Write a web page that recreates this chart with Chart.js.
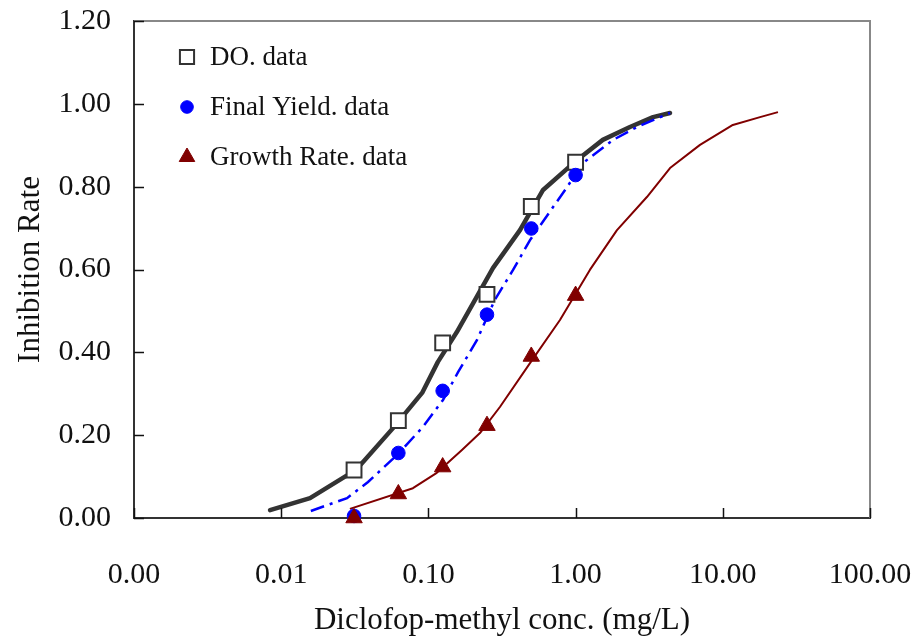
<!DOCTYPE html>
<html>
<head>
<meta charset="utf-8">
<script src="https://cdn.jsdelivr.net/npm/chart.js@4.4.0/dist/chart.umd.min.js"></script>
<style>
  html, body { margin: 0; padding: 0; background: #fff; }
  #wrap { width: 913px; height: 641px; }
</style>
</head>
<body>
<div id="wrap"><canvas id="chart" width="913" height="641"></canvas></div>
<script>
// measured concentrations (mg/L) and inhibition rates
const conc = [0.03125, 0.0625, 0.125, 0.25, 0.5, 1];
const doRate = [0.116, 0.235, 0.423, 0.540, 0.752, 0.859];
const yieldRate = [0.005, 0.157, 0.307, 0.491, 0.699, 0.828];
const growthRate = [0.000, 0.058, 0.123, 0.223, 0.390, 0.537];

// fitted curves
const doFitX = [0.0084, 0.0157, 0.0322, 0.0575, 0.0906, 0.116, 0.156, 0.275, 0.419, 0.601, 1.02, 1.53, 2.34, 3.36, 4.38];
const doFitY = [0.019, 0.048, 0.116, 0.217, 0.302, 0.377, 0.449, 0.604, 0.695, 0.792, 0.864, 0.913, 0.944, 0.968, 0.978];
const yieldFitX = [0.0159, 0.028, 0.0389, 0.0612, 0.0918, 0.1256, 0.159, 0.214, 0.283, 0.376, 0.49, 0.875, 1.12, 1.80, 2.61, 4.38];
const yieldFitY = [0.017, 0.048, 0.087, 0.152, 0.220, 0.285, 0.352, 0.430, 0.527, 0.599, 0.671, 0.799, 0.857, 0.913, 0.944, 0.978];
const growthFitX = [0.0293, 0.0785, 0.114, 0.169, 0.224, 0.306, 0.49, 0.783, 1.25, 1.91, 3.05, 4.38, 7.0, 11.7, 17.9, 23.7];
const growthFitY = [0.022, 0.072, 0.109, 0.164, 0.205, 0.268, 0.374, 0.478, 0.599, 0.695, 0.775, 0.845, 0.901, 0.949, 0.968, 0.980];

// axis ticks
const xTickValues = [0.001, 0.01, 0.1, 1, 10, 100];
const xTickLabels = ['0.00', '0.01', '0.10', '1.00', '10.00', '100.00'];
const yTickValues = [0, 0.2, 0.4, 0.6, 0.8, 1.0, 1.2];

const FONT = "'Liberation Serif', 'Times New Roman', serif";

function pairs(xs, ys) {
    return xs.map((x, i) => ({ x, y: ys[i] }));
}

// inward tick marks + grey top/right frame
const framePlugin = {
    id: 'frame',
    afterDraw(chart) {
        const { ctx, chartArea: a, scales } = chart;
        ctx.save();
        ctx.strokeStyle = '#888';
        ctx.lineWidth = 2;
        ctx.beginPath();
        ctx.moveTo(a.left, a.top);
        ctx.lineTo(a.right, a.top);
        ctx.lineTo(a.right, a.bottom);
        ctx.stroke();

        ctx.strokeStyle = '#111';
        ctx.lineWidth = 1.5;
        ctx.beginPath();
        xTickValues.forEach(v => {
            const px = Math.round(scales.x.getPixelForValue(v)) + 0.5;
            ctx.moveTo(px, a.bottom);
            ctx.lineTo(px, a.bottom - 10);
        });
        yTickValues.forEach(v => {
            const py = Math.round(scales.y.getPixelForValue(v)) + 0.5;
            ctx.moveTo(a.left, py);
            ctx.lineTo(a.left + 10, py);
        });
        ctx.stroke();
        ctx.restore();
    }
};

// legend drawn inside the plot, top-left
const insideLegend = {
    id: 'insideLegend',
    afterDraw(chart) {
        const { ctx, chartArea: a } = chart;
        const items = chart.data.datasets.filter(d => d.inLegend).reverse();
        ctx.save();
        ctx.font = '27px ' + FONT;
        ctx.textBaseline = 'middle';
        items.forEach((d, i) => {
            const y = a.top + 36 + i * 50;
            const x = a.left + 53;
            ctx.fillStyle = d.pointBackgroundColor;
            ctx.strokeStyle = d.pointBorderColor;
            ctx.lineWidth = d.pointBorderWidth;
            Chart.helpers.drawPoint(ctx, {
                pointStyle: d.pointStyle,
                radius: d.legendRadius,
                rotation: 0,
                borderWidth: d.pointBorderWidth
            }, x, y);
            ctx.fillStyle = '#111';
            ctx.fillText(d.label, x + 23, y + 1);
        });
        ctx.restore();
    }
};

new Chart(document.getElementById('chart'), {
    type: 'scatter',
    data: {
        datasets: [
            {
                label: 'Growth Rate. data',
                inLegend: true,
                data: pairs(conc, growthRate),
                pointStyle: 'triangle',
                pointRadius: 9.5,
                legendRadius: 9,
                pointBackgroundColor: '#800000',
                pointBorderColor: '#800000',
                pointBorderWidth: 1,
                clip: false,
                order: 1
            },
            {
                label: 'Final Yield. data',
                inLegend: true,
                data: pairs(conc, yieldRate),
                pointStyle: 'circle',
                pointRadius: 6.8,
                legendRadius: 6.3,
                pointBackgroundColor: '#0000ff',
                pointBorderColor: '#0000ff',
                pointBorderWidth: 1,
                clip: false,
                order: 2
            },
            {
                label: 'DO. data',
                inLegend: true,
                data: pairs(conc, doRate),
                pointStyle: 'rect',
                pointRadius: 10.5,
                legendRadius: 10,
                pointBackgroundColor: '#ffffff',
                pointBorderColor: '#333333',
                pointBorderWidth: 2,
                clip: false,
                order: 3
            },
            {
                label: 'DO fit',
                data: pairs(doFitX, doFitY),
                showLine: true,
                pointRadius: 0,
                borderColor: '#333333',
                borderWidth: 4.5,
                borderCapStyle: 'round',
                borderJoinStyle: 'round',
                order: 6
            },
            {
                label: 'Final Yield fit',
                data: pairs(yieldFitX, yieldFitY),
                showLine: true,
                pointRadius: 0,
                borderColor: '#0000ff',
                borderWidth: 2.5,
                borderDash: [14, 6, 3, 6],
                order: 5
            },
            {
                label: 'Growth Rate fit',
                data: pairs(growthFitX, growthFitY),
                showLine: true,
                pointRadius: 0,
                borderColor: '#800000',
                borderWidth: 2,
                borderJoinStyle: 'round',
                order: 4
            }
        ]
    },
    options: {
        responsive: false,
        animation: false,
        events: [],
        layout: { padding: { top: 21, right: 43, left: 0, bottom: 0 } },
        plugins: {
            legend: { display: false },
            tooltip: { enabled: false }
        },
        scales: {
            x: {
                type: 'logarithmic',
                min: 0.001,
                max: 100,
                afterBuildTicks: s => { s.ticks = xTickValues.map(v => ({ value: v })); },
                afterFit: s => { s.height = 123; s.paddingLeft = 0; s.paddingRight = 0; },
                ticks: {
                    callback: v => xTickLabels[xTickValues.indexOf(v)],
                    color: '#111',
                    font: { family: FONT, size: 30 },
                    padding: 39,
                    maxRotation: 0,
                    autoSkip: false
                },
                grid: { display: false, drawTicks: false },
                border: { display: true, color: '#333', width: 2 },
                title: {
                    display: true,
                    text: 'Diclofop-methyl conc. (mg/L)',
                    color: '#111',
                    font: { family: FONT, size: 31 },
                    padding: { top: 0, bottom: 2 }
                }
            },
            y: {
                min: 0,
                max: 1.2,
                afterBuildTicks: s => { s.ticks = yTickValues.map(v => ({ value: v })); },
                afterFit: s => { s.width = 134; s.paddingTop = 0; s.paddingBottom = 0; },
                ticks: {
                    callback: v => v.toFixed(2),
                    color: '#111',
                    font: { family: FONT, size: 30 },
                    padding: 23
                },
                grid: { display: false, drawTicks: false },
                border: { display: true, color: '#333', width: 2 },
                title: {
                    display: true,
                    text: 'Inhibition Rate',
                    color: '#111',
                    font: { family: FONT, size: 31 },
                    padding: { top: 12, bottom: 0 }
                }
            }
        }
    },
    plugins: [framePlugin, insideLegend]
});
</script>
</body>
</html>
